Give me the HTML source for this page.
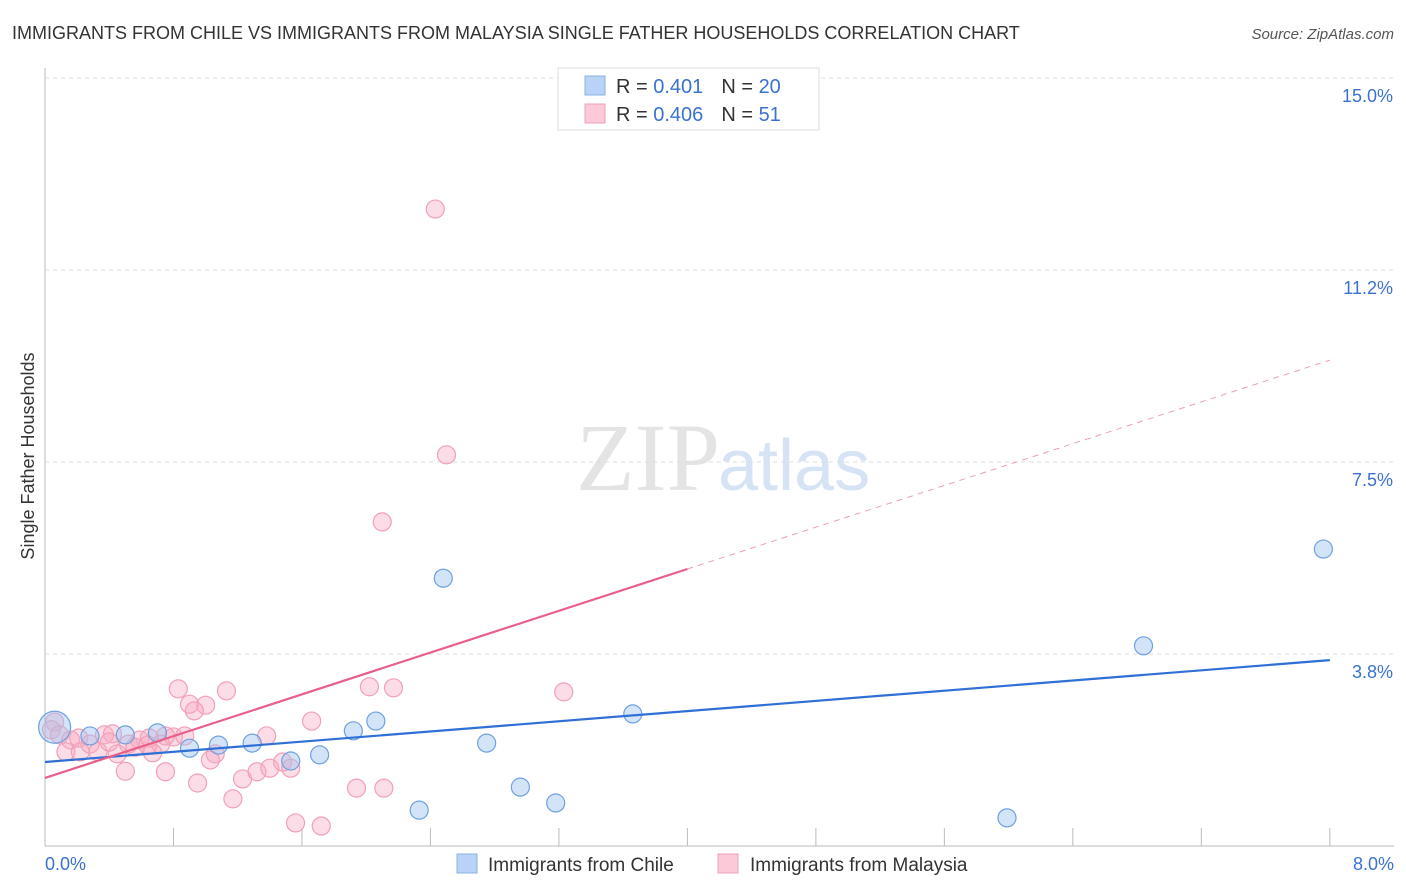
<!DOCTYPE html>
<html><head><meta charset="utf-8"><style>
body{margin:0;background:#fff;font-family:"Liberation Sans",sans-serif;}
#wrap{position:relative;width:1406px;height:892px;overflow:hidden}
</style></head><body>
<div id="wrap">
<svg id="svg" width="1406" height="892" xmlns="http://www.w3.org/2000/svg">
<text x="12" y="39" font-size="18" fill="#333">IMMIGRANTS FROM CHILE VS IMMIGRANTS FROM MALAYSIA SINGLE FATHER HOUSEHOLDS CORRELATION CHART</text>
<text x="1394" y="39" font-size="15" fill="#555" font-style="italic" text-anchor="end">Source: ZipAtlas.com</text>
<text x="720" y="490" font-size="96" fill="#e4e4e4" text-anchor="end" font-family="Liberation Serif">ZIP</text>
<text x="718" y="490" font-size="72" fill="#d6e3f4">atlas</text>
<text transform="translate(34,456) rotate(-90)" font-size="18" fill="#333" text-anchor="middle">Single Father Households</text>
<g id="grid"></g><g id="marks"></g>
<rect x="558" y="68" width="261" height="62" fill="#fff" stroke="#ddd"/>
<rect x="585" y="76" width="20" height="19" fill="#b8d3f5" stroke="#8ab0e0"/>
<rect x="585" y="104" width="20" height="19" fill="#fbc9d8" stroke="#f0a0b8"/>
<text x="616" y="93" font-size="20" fill="#333">R = <tspan fill="#3a72d0"> 0.401</tspan><tspan dx="18">N = </tspan><tspan fill="#3a72d0">20</tspan></text>
<text x="616" y="121" font-size="20" fill="#333">R = <tspan fill="#3a72d0">0.406</tspan><tspan dx="18">N = </tspan><tspan fill="#3a72d0"> 51</tspan></text>
<text x="45" y="870" font-size="18" fill="#3a72d0">0.0%</text>
<text x="1394" y="870" font-size="18" fill="#3a72d0" text-anchor="end">8.0%</text>
<rect x="457" y="854" width="20" height="19" fill="#b8d3f5" stroke="#8ab0e0"/>
<text x="488" y="871" font-size="19" fill="#333">Immigrants from Chile</text>
<rect x="718" y="854" width="20" height="19" fill="#fbc9d8" stroke="#f0a0b8"/>
<text x="750" y="871" font-size="19" fill="#333">Immigrants from Malaysia</text>
</svg></div>
<script>
const yTicks=[3.75,7.5,11.25,15];
const yTickLabels=["3.8%","7.5%","11.2%","15.0%"];
const xTicks=[0,0.8,1.6,2.4,3.2,4.0,4.8,5.6,6.4,7.2,8.0];
const chileX=[0.06,0.28,0.50,0.70,0.90,1.08,1.29,1.53,1.71,1.92,2.06,2.48,2.75,2.96,3.18,2.33,3.66,5.99,6.84,7.96];
const chileY=[2.32,2.15,2.17,2.21,1.91,1.97,2.01,1.66,1.78,2.25,2.44,5.23,2.01,1.15,0.84,0.70,2.58,0.55,3.91,5.80];
const malX=[2.43,2.50,2.10,2.02,2.17,3.23,0.83,1.13,0.90,1.00,0.93,1.66,1.38,0.80,0.87,0.06,0.04,0.09,0.16,0.21,0.28,0.33,0.37,0.42,0.45,0.52,0.59,0.65,0.72,0.67,0.75,1.06,1.03,1.23,1.32,1.40,1.48,1.53,1.17,0.95,0.75,0.50,1.94,2.11,1.56,1.72,0.13,0.22,0.56,0.64,0.40];
const malY=[12.44,7.64,6.33,3.11,3.09,3.01,3.07,3.03,2.77,2.75,2.64,2.44,2.15,2.13,2.15,2.42,2.27,2.17,2.07,2.11,1.99,1.84,2.17,2.19,1.80,1.99,2.07,2.11,1.99,1.82,2.15,1.80,1.68,1.31,1.45,1.52,1.64,1.52,0.92,1.23,1.45,1.46,1.13,1.13,0.45,0.39,1.84,1.84,1.93,1.97,2.03];
const chileTrend=[1.64,3.63]; // y at x=0 and x=8
const malTrend=[1.33,9.49];
const malSolidEnd=4.0;
const X=v=>45+v*160.6, Y=v=>846-v*51.2;
const NS="http://www.w3.org/2000/svg";
const grid=document.getElementById('grid'), marks=document.getElementById('marks');
function mk(tag,attrs,parent){const e=document.createElementNS(NS,tag);for(const k in attrs)e.setAttribute(k,attrs[k]);parent.appendChild(e);return e;}
let ax=mk('line',{x1:45,y1:68,x2:45,y2:846,stroke:'#bbb'},grid);


let bx=mk('line',{x1:45,y1:846,x2:1394,y2:846,stroke:'#bbb'},grid);


yTicks.forEach((t,i)=>{
 let g=mk('line',{x1:45,x2:1394,y1:Y(t),y2:Y(t),stroke:'#ddd','stroke-dasharray':'4,4'},grid);
 
 
 let tx=mk('text',{x:1393,y:Y(t)+24,'font-size':18,fill:'#3a72d0','text-anchor':'end'},grid);
 tx.textContent=yTickLabels[i];
 
 
});
xTicks.forEach(t=>{
 let l=mk('line',{x1:X(t),x2:X(t),y1:828,y2:846,stroke:'#bbb'},grid);
 
 
});
malX.forEach((x,i)=>{
 let c=mk('circle',{cx:X(x),cy:Y(malY[i]),r:9,fill:'rgba(247,170,195,0.4)',stroke:'#f0a0b8','stroke-width':1.2},marks);
 
 
});
chileX.forEach((x,i)=>{
 let c=mk('circle',{cx:X(x),cy:Y(chileY[i]),r:i===0?16:9,fill:'rgba(160,195,240,0.45)',stroke:'#6fa0e0','stroke-width':1.2},marks);
 
 
});
const my=x=>malTrend[0]+(malTrend[1]-malTrend[0])*x/8;
let l1=mk('line',{x1:X(0),y1:Y(chileTrend[0]),x2:X(8),y2:Y(chileTrend[1]),stroke:'#2f6fd6','stroke-width':2.2},marks);


let l2=mk('line',{x1:X(0),y1:Y(my(0)),x2:X(malSolidEnd),y2:Y(my(malSolidEnd)),stroke:'#e8608a','stroke-width':2.2},marks);


let l3=mk('line',{x1:X(malSolidEnd),y1:Y(my(malSolidEnd)),x2:X(8),y2:Y(my(8)),stroke:'#e8a0b5','stroke-width':1,'stroke-dasharray':'6,5'},marks);


</script>
</body></html>
